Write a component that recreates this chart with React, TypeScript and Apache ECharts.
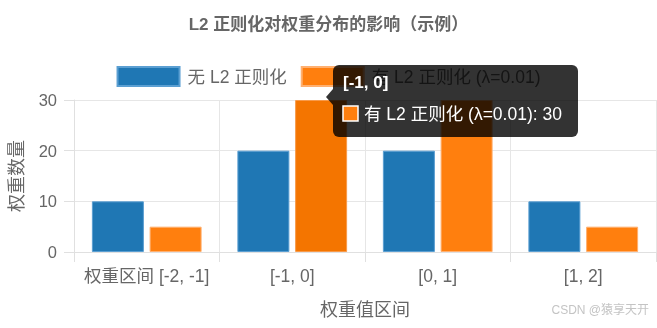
import React, { useEffect, useRef } from "react";
import * as echarts from "echarts";

const categories = ["权重区间 [-2, -1]", "[-1, 0]", "[0, 1]", "[1, 2]"];
const seriesNames = ["无 L2 正则化", "有 L2 正则化 (λ=0.01)"];
const noL2Values = [10, 20, 20, 10];
const withL2Values = [5, 30, 30, 5];
const yTicks = { min: 0, max: 30, interval: 10 };
const tooltipTitle = "[-1, 0]";
const hoveredIndex = 1;

const FONT = "'Liberation Sans', Arial, 'Noto Sans CJK SC', sans-serif";

export default function App() {
  const ref = useRef<HTMLDivElement>(null);
  useEffect(() => {
    if (!ref.current) return;
    const chart = echarts.init(ref.current, undefined, { renderer: "svg" });
    const tooltipBody = `${seriesNames[1]}: ${withL2Values[hoveredIndex]}`;
    const TZ = 100;
    chart.setOption({
      animation: false,
      textStyle: { fontFamily: FONT },
      title: {
        text: "L2 正则化对权重分布的影响（示例）",
        left: "center",
        top: 11,
        textStyle: { color: "#666", fontSize: 17, fontWeight: "bold", fontFamily: FONT },
      },
      legend: {
        top: 61,
        left: "center",
        itemWidth: 62,
        itemHeight: 19,
        itemGap: 14,
        icon: "rect",
        textStyle: { color: "#666", fontSize: 17.5, fontFamily: FONT, padding: [0, 0, 0, 3] },
        data: seriesNames,
      },
      grid: { left: 74, right: 1, top: 100, bottom: 76, containLabel: false },
      xAxis: {
        type: "category",
        data: categories,
        name: "权重值区间",
        nameLocation: "middle",
        nameGap: 49,
        nameTextStyle: { color: "#666", fontSize: 18, fontFamily: FONT },
        axisLine: { show: true, lineStyle: { color: "#e0e0e0" } },
        axisTick: { show: true, length: 10, interval: 0, lineStyle: { color: "#e0e0e0" } },
        axisLabel: { color: "#666", fontSize: 17.5, margin: 15, interval: 0, fontFamily: FONT },
        splitLine: { show: true, interval: 0, lineStyle: { color: "#e6e6e6" } },
      },
      yAxis: {
        type: "value",
        min: yTicks.min,
        max: yTicks.max,
        interval: yTicks.interval,
        name: "权重数量",
        nameLocation: "middle",
        nameGap: 48,
        nameTextStyle: { color: "#666", fontSize: 18, fontFamily: FONT },
        axisLine: { show: true, lineStyle: { color: "#e0e0e0" } },
        axisTick: { show: true, length: 10, lineStyle: { color: "#e0e0e0" } },
        axisLabel: { color: "#666", fontSize: 16.5, margin: 17, fontFamily: FONT },
        splitLine: { show: true, lineStyle: { color: "#e6e6e6" } },
      },
      series: [
        {
          name: seriesNames[0],
          type: "bar",
          data: noL2Values,
          barWidth: 52,
          barGap: "11%",
          itemStyle: { color: "#1f77b4", borderColor: "#5b9fd2", borderWidth: 1 },
        },
        {
          name: seriesNames[1],
          type: "bar",
          data: withL2Values.map((v, i) =>
            i === hoveredIndex
              ? { value: v, itemStyle: { color: "#f47500", borderColor: "#f89a4a" } }
              : v
          ),
          barWidth: 52,
          barGap: "11%",
          itemStyle: { color: "#ff7f0e", borderColor: "#ffb070", borderWidth: 1 },
        },
      ],
      graphic: [
        {
          type: "rect",
          z: TZ,
          shape: { x: 333, y: 65, width: 245, height: 72, r: 6 },
          style: { fill: "rgba(0,0,0,0.8)" },
        },
        {
          type: "polygon",
          z: TZ,
          shape: { points: [[333, 89], [326, 97], [333, 105]] },
          style: { fill: "rgba(0,0,0,0.8)" },
        },
        {
          type: "text",
          z: TZ + 1,
          x: 343,
          y: 82,
          style: {
            text: tooltipTitle,
            fill: "#fff",
            font: `bold 17px ${FONT}`,
            verticalAlign: "middle",
          },
        },
        {
          type: "rect",
          z: TZ + 1,
          shape: { x: 343, y: 106, width: 15, height: 15 },
          style: { fill: "#ff7f0e", stroke: "#fff", lineWidth: 1.5 },
        },
        {
          type: "text",
          z: TZ + 1,
          x: 364,
          y: 114,
          style: {
            text: tooltipBody,
            fill: "#fff",
            font: `17.5px ${FONT}`,
            verticalAlign: "middle",
          },
        },
        {
          type: "text",
          right: 8,
          top: 304,
          style: {
            text: "CSDN @猿享天开",
            fill: "#c4c4c4",
            font: `12px ${FONT}`,
          },
        },
      ],
    });
    return () => chart.dispose();
  }, []);
  return (
    <div
      ref={ref}
      style={{ position: "fixed", left: 0, top: 0, width: 657, height: 328 }}
    />
  );
}
